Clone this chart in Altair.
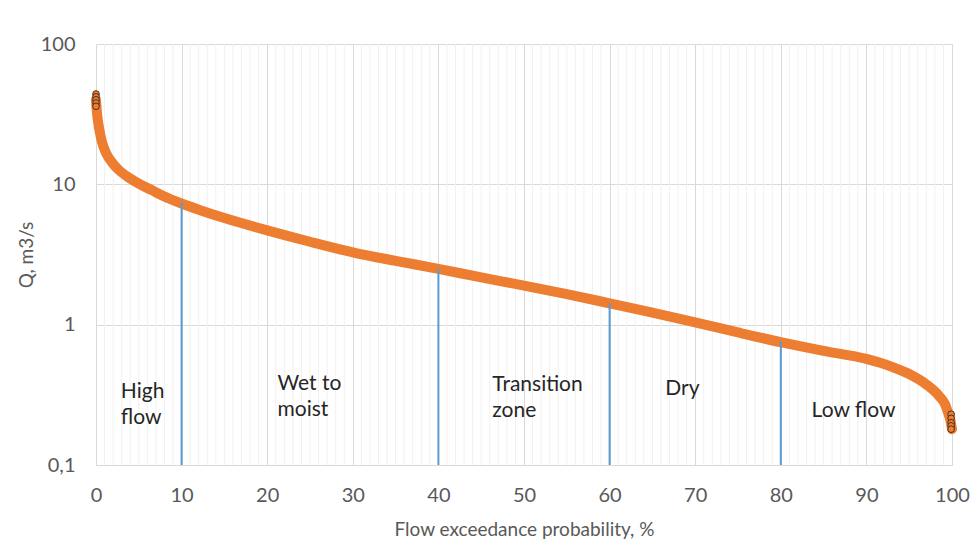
import altair as alt
import pandas as pd

# Flow duration curve
prob = [0, 0.1, 0.2, 0.4, 0.7, 1.2, 2, 2.7, 4, 5, 6.5, 7.8, 10, 12, 15, 20, 25, 30, 35,
        40, 45, 50, 55, 60, 65, 70, 75, 80, 85, 90, 93, 95, 97, 98.5, 99.2, 99.6, 99.8, 100]
flow = [40, 33, 29, 24.3, 20, 16.6, 14, 12.6, 11, 10.1, 9.1, 8.3, 7.3, 6.6, 5.75, 4.7, 3.9, 3.28, 2.85,
        2.5, 2.17, 1.9, 1.65, 1.42, 1.22, 1.04, 0.88, 0.75, 0.65, 0.57, 0.5, 0.445, 0.375, 0.31, 0.27, 0.23, 0.21, 0.18]

# sparse marker clusters at the two ends
end_prob = [0, 0, 0, 0, 0, 99.9, 99.9, 99.9, 99.9, 99.9]
end_flow = [44, 42, 40, 38, 36, 0.23, 0.215, 0.2, 0.19, 0.18]

# zone boundaries
bound_prob = [10, 40, 60, 80]
bound_flow = [7.4, 2.5, 1.42, 0.76]

# zone labels (y = first text line)
zone_text = ["High\nflow", "Wet to\nmoist", "Transition\nzone", "Dry", "Low flow"]
zone_prob = [2.9, 21.2, 46.3, 66.5, 83.6]
zone_flow = [0.332, 0.379, 0.373, 0.35, 0.243]

minor_grid = [v for v in range(0, 101) if v % 10 != 0]
x_ticks = list(range(0, 101, 10))
y_ticks = [0.1, 1, 10, 100]

FONT = "Lato"
ORANGE = "#ED7D31"
BLUE = "#5B9BD5"

curve = pd.DataFrame({"p": prob, "q": flow})
ends = pd.DataFrame({"p": end_prob, "q": end_flow})
bounds = pd.DataFrame({"p": bound_prob, "q": bound_flow, "q0": [0.1] * len(bound_prob)})
zones = pd.DataFrame({"label": zone_text, "p": zone_prob, "q": zone_flow})
minor = pd.DataFrame({"p": minor_grid})

xscale = alt.Scale(domain=[0, 100], nice=False)
yscale = alt.Scale(type="log", domain=[0.1, 100], nice=False)

xaxis = alt.Axis(values=x_ticks, grid=True, gridColor="#D9D9D9", domainColor="#D9D9D9",
                 ticks=False, labelColor="#595959", labelFontSize=20, labelFont=FONT,
                 labelPadding=20, labelFlush=False,
                 title="Flow exceedance probability, %", titleFont=FONT,
                 titleFontSize=19, titleColor="#595959", titleFontWeight="normal", titlePadding=15)
yaxis = alt.Axis(values=y_ticks, grid=True, gridColor="#D9D9D9", domain=False, ticks=False,
                 labelColor="#595959", labelFontSize=20, labelFont=FONT, labelPadding=21,
                 labelFlush=False,
                 labelExpr="datum.value < 0.5 ? '0,1' : format(datum.value, 'd')",
                 title="Q, m3/s", titleFont=FONT, titleFontSize=19, titleColor="#595959",
                 titleFontWeight="normal", titlePadding=4)

minor_layer = alt.Chart(minor).mark_rule(color="#F1F1F1", strokeWidth=1).encode(
    x=alt.X("p:Q", scale=xscale, axis=xaxis)
)

line_layer = alt.Chart(curve).mark_line(color=ORANGE, strokeWidth=10, strokeCap="round",
                                        interpolate="monotone").encode(
    x=alt.X("p:Q", scale=xscale, axis=xaxis),
    y=alt.Y("q:Q", scale=yscale, axis=yaxis),
)

end_layer = alt.Chart(ends).mark_point(shape="circle", filled=True, fill=ORANGE,
                                       stroke="#4a3020", strokeWidth=1, size=45, opacity=1).encode(
    x="p:Q", y="q:Q"
)

bound_layer = alt.Chart(bounds).mark_rule(color=BLUE, strokeWidth=2).encode(
    x="p:Q", y="q0:Q", y2="q:Q"
)

text_layer = alt.Chart(zones).mark_text(align="left", baseline="middle", font=FONT,
                                        fontSize=21, color="#262626", lineBreak="\n",
                                        lineHeight=26).encode(
    x="p:Q", y="q:Q", text="label:N"
)

chart = alt.layer(minor_layer, line_layer, bound_layer, end_layer, text_layer).properties(
    width=856, height=421,
    padding={"left": 88, "top": 36, "right": 18, "bottom": 80},
    autosize=alt.AutoSizeParams(type="none"),
    background="white",
).configure_view(stroke=None)

chart.save("out.html", embed_options={"renderer": "svg", "actions": False})
